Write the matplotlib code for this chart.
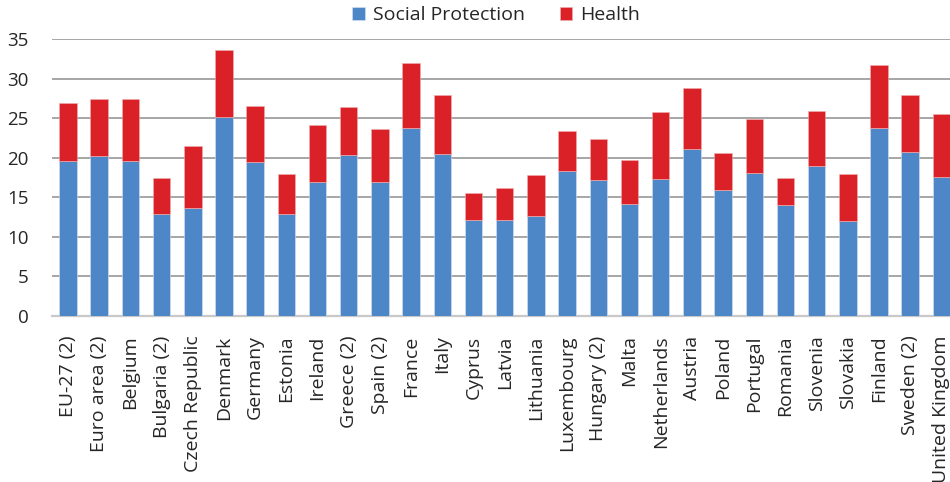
import matplotlib
matplotlib.use("Agg")
import numpy as np
import matplotlib.pyplot as plt

# data
countries = ["EU-27 (2)", "Euro area (2)", "Belgium", "Bulgaria (2)", "Czech Republic",
             "Denmark", "Germany", "Estonia", "Ireland", "Greece (2)", "Spain (2)",
             "France", "Italy", "Cyprus", "Latvia", "Lithuania", "Luxembourg",
             "Hungary (2)", "Malta", "Netherlands", "Austria", "Poland", "Portugal",
             "Romania", "Slovenia", "Slovakia", "Finland", "Sweden (2)", "United Kingdom"]
social = [19.6, 20.2, 19.6, 12.9, 13.7, 25.2, 19.5, 12.9, 16.9, 20.4, 17.0,
          23.8, 20.5, 12.1, 12.1, 12.6, 18.4, 17.2, 14.2, 17.3, 21.1, 15.9,
          18.1, 14.1, 19.0, 12.0, 23.8, 20.8, 17.6]
total = [26.9, 27.5, 27.5, 17.5, 21.5, 33.6, 26.5, 17.9, 24.2, 26.4, 23.6,
         32.0, 27.9, 15.5, 16.2, 17.8, 23.4, 22.4, 19.7, 25.8, 28.9, 20.6,
         24.9, 17.5, 25.9, 17.9, 31.7, 27.9, 25.5]
health = [t - s for t, s in zip(total, social)]

blue = "#4D87C7"
red = "#DB2128"
txt = "#262626"

plt.rcParams['font.family'] = ['Open Sans', 'DejaVu Sans']

fig = plt.figure(figsize=(9.5, 4.82), dpi=100)
ax = fig.add_axes([52.4 / 950, 166 / 482, (957 - 52.4) / 950, (316 - 39.3) / 482])

x = np.arange(len(countries))
ax.bar(x, social, width=0.56, color=blue, edgecolor="#d8e4f2", linewidth=0.4,
       label="Social Protection", zorder=3)
ax.bar(x, health, width=0.56, bottom=social, color=red, edgecolor="#f0b0b0",
       linewidth=0.4, label="Health", zorder=3)

ax.set_xlim(-0.5, len(countries) - 0.5)
ax.set_ylim(0, 35)
ax.set_yticks(range(0, 36, 5))
ax.yaxis.grid(True, color="#a6a6a6", linewidth=1.4, zorder=0)
ax.set_axisbelow(True)
for s in ["left", "right", "top"]:
    ax.spines[s].set_visible(False)
ax.spines["bottom"].set_color("#c8c8c8")
ax.spines["bottom"].set_linewidth(1.6)

ax.set_xticks(x)
ax.set_xticklabels(countries, rotation=90, fontsize=14, color=txt)
ax.tick_params(axis="x", length=0, pad=14)
ax.tick_params(axis="y", length=0, pad=17, labelsize=13.5, labelcolor=txt)

leg = fig.legend(loc="center", bbox_to_anchor=(496 / 950, 1 - 15 / 482), ncol=2,
                 frameon=False, fontsize=14, handlelength=0.65, handleheight=0.65,
                 handletextpad=0.4, columnspacing=1.8)
for t in leg.get_texts():
    t.set_color(txt)

fig.savefig("out.png", dpi=100)
